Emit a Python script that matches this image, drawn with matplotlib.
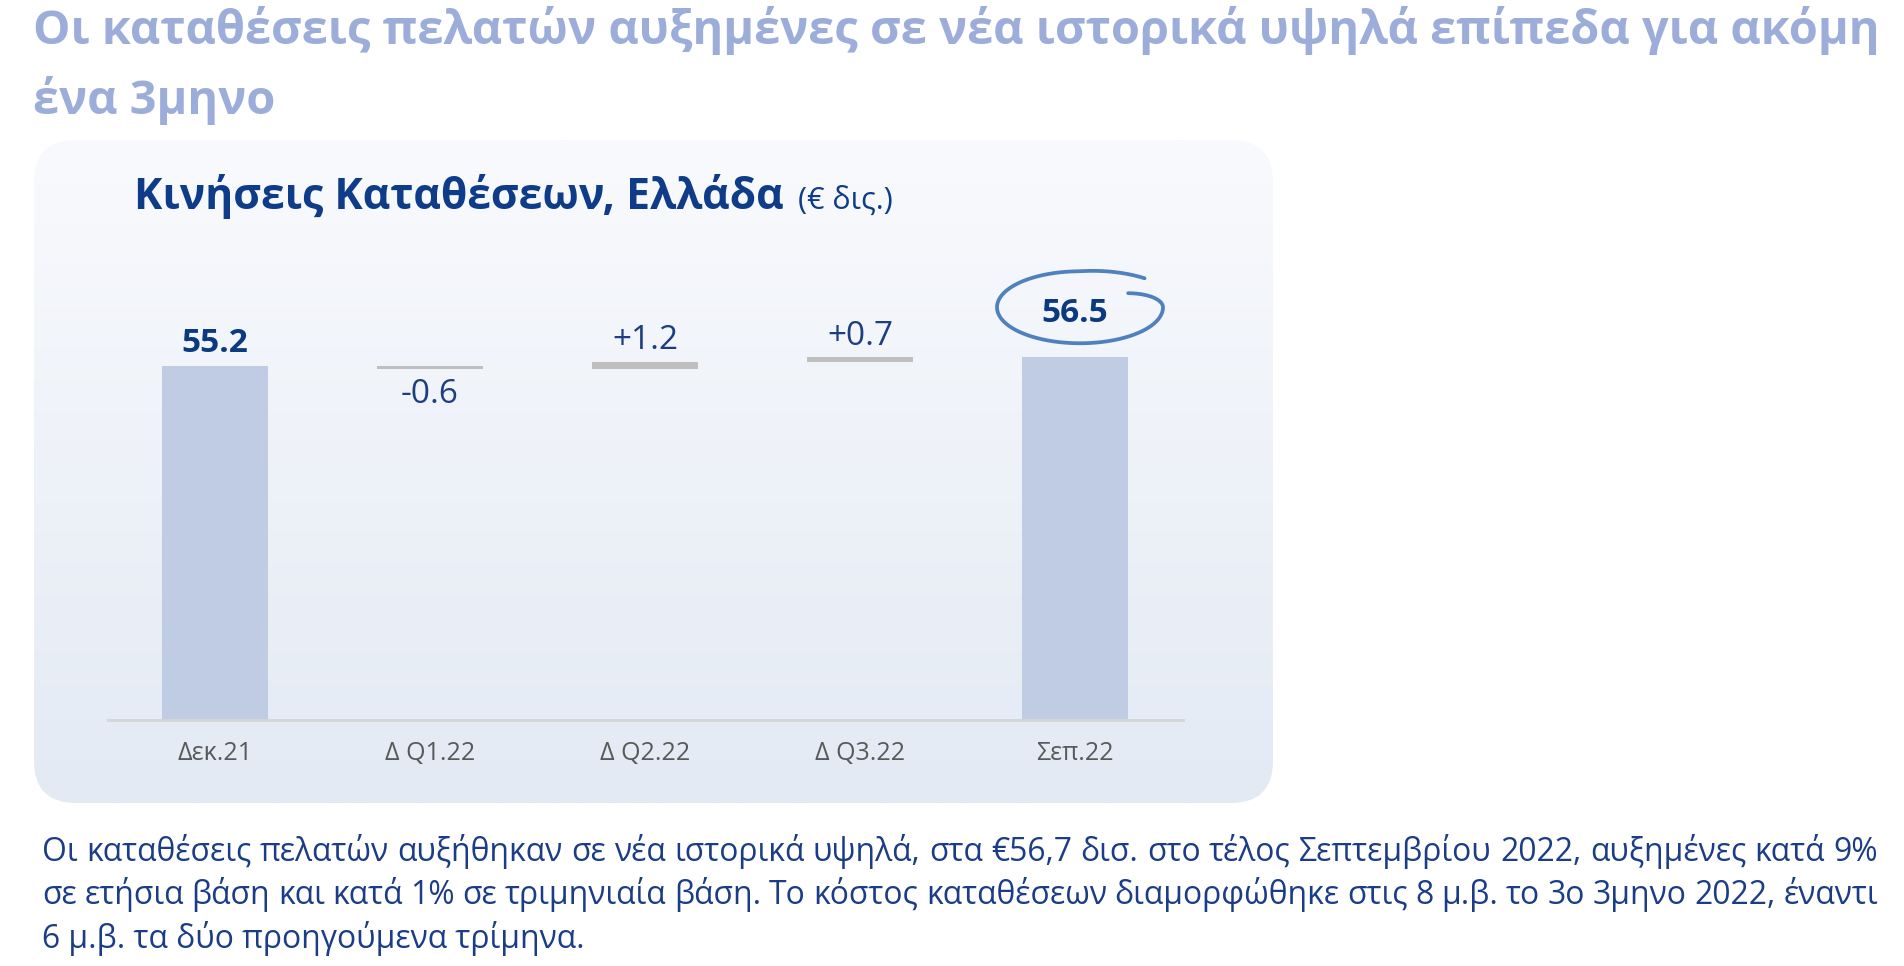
import numpy as np
import matplotlib
matplotlib.use('Agg')
import matplotlib.pyplot as plt
from matplotlib.patches import FancyBboxPatch
from matplotlib.colors import to_rgb

plt.rcParams['font.family'] = ['Open Sans', 'DejaVu Sans']

# ---------------- data ----------------
categories = ['Δεκ.21', 'Δ Q1.22', 'Δ Q2.22', 'Δ Q3.22', 'Σεπ.22']
values = [55.2, -0.6, 1.2, 0.7, 56.5]
is_total = [True, False, False, False, True]

title_lines = ['Οι καταθέσεις πελατών αυξημένες σε νέα ιστορικά υψηλά επίπεδα για ακόμη',
               'ένα 3μηνο']
chart_title = 'Κινήσεις Καταθέσεων, Ελλάδα'
unit_label = '(€ δις.)'
body_lines = [
    'Οι καταθέσεις πελατών αυξήθηκαν σε νέα ιστορικά υψηλά, στα €56,7 δισ. στο τέλος Σεπτεμβρίου 2022, αυξημένες κατά 9%',
    'σε ετήσια βάση και κατά 1% σε τριμηνιαία βάση. Το κόστος καταθέσεων διαμορφώθηκε στις 8 μ.β. το 3ο 3μηνο 2022, έναντι',
    '6 μ.β. τα δύο προηγούμενα τρίμηνα.',
]

# ---------------- styles ----------------
TITLE_COLOR = '#9DADDA'
NAVY = '#0E3C88'
BODY_COLOR = '#1B3C86'
TOTAL_COLOR = '#C0CCE4'
DELTA_COLOR = '#BFBFBF'
TICK_COLOR = '#595959'
CIRCLE_COLOR = '#4F81BD'

W, H = 1904, 966
fig = plt.figure(figsize=(W / 100, H / 100), dpi=100)
fig.patch.set_facecolor('white')
renderer = fig.canvas.get_renderer()

# background panel (pixel coordinates, origin top-left)
bg = fig.add_axes([0, 0, 1, 1], zorder=0)
bg.set_xlim(0, W)
bg.set_ylim(H, 0)
bg.axis('off')
px0, py0, pw, ph = 34, 140, 1239, 663
grad = np.linspace(0, 1, 256)[:, None, None]
ctop = np.array(to_rgb('#F9FAFD'))
cbot = np.array(to_rgb('#E3EAF4'))
img = ctop + (cbot - ctop) * grad
im = bg.imshow(img, extent=[px0, px0 + pw, py0 + ph, py0], aspect='auto',
               interpolation='bilinear')
panel = FancyBboxPatch((px0, py0), pw, ph, boxstyle='round,pad=0,rounding_size=42',
                       transform=bg.transData, facecolor='none', edgecolor='none')
bg.add_patch(panel)
im.set_clip_path(panel)
bg.set_xlim(0, W)
bg.set_ylim(H, 0)

# ---------------- chart ----------------
ax_left, ax_right, base_y = 107.5, 1182.5, 720
ppu, ymax = 6.42, 60
ax = fig.add_axes([ax_left / W, (H - base_y) / H, (ax_right - ax_left) / W, ppu * ymax / H],
                  zorder=2)
ax.patch.set_alpha(0)

x = np.arange(len(categories))
bottoms, heights, colors = [], [], []
running = 0.0
for v, t in zip(values, is_total):
    if t:
        bottoms.append(0.0)
        heights.append(v)
        colors.append(TOTAL_COLOR)
        running = v
    else:
        bottoms.append(running + min(v, 0))
        heights.append(abs(v))
        colors.append(DELTA_COLOR)
        running += v

ax.bar(x, heights, bottom=bottoms, width=0.49, color=colors, linewidth=0, zorder=2)
ax.set_xlim(-0.5, 4.5)
ax.set_ylim(0, ymax)

for i, (v, t) in enumerate(zip(values, is_total)):
    top = bottoms[i] + heights[i]
    if t:
        lab = f'{v:.1f}'
        off_px = 44 if i == len(values) - 1 else 22
        ax.annotate(lab, xy=(i, top), xytext=(0, off_px * 0.72), textcoords='offset points',
                    ha='center', va='center', fontsize=24, fontweight='bold', color='#0B3A80',
                    annotation_clip=False)
    else:
        lab = f'{v:+.1f}'
        if v >= 0:
            ax.annotate(lab, xy=(i, top), xytext=(0, 21 * 0.72), textcoords='offset points',
                        ha='center', va='center', fontsize=24, color='#1D3F80',
                        annotation_clip=False)
        else:
            ax.annotate(lab, xy=(i, bottoms[i]), xytext=(0, -25 * 0.72),
                        textcoords='offset points', ha='center', va='center', fontsize=24,
                        color='#1D3F80', annotation_clip=False)

ax.set_xticks(x, categories)
ax.set_yticks([])
ax.tick_params(axis='x', length=0, pad=15, labelsize=18, labelcolor=TICK_COLOR)
for s in ['top', 'left', 'right']:
    ax.spines[s].set_visible(False)
ax.spines['bottom'].set_color('#D5D5D5')
ax.spines['bottom'].set_linewidth(2)
ax.spines['bottom'].set_zorder(3)

# hand-drawn ring around the final total
ov = fig.add_axes([0, 0, 1, 1], zorder=3)
ov.set_xlim(0, W)
ov.set_ylim(H, 0)
ov.axis('off')
ov.patch.set_alpha(0)
last = len(values) - 1
X, Y = ax.transData.transform((last, values[last]))
cx, cy = X + 5, (H - Y) - 50
deg = np.linspace(46, 394, 500)
r = np.ones_like(deg)
r += 0.12 * np.clip((90 - deg) / 44, 0, 1)
r -= 0.30 * np.clip((deg - 360) / 34, 0, 1) ** 2
th = np.radians(deg)
ov.plot(cx + 83 * r * np.cos(th), cy - 36 * r * np.sin(th), color=CIRCLE_COLOR, lw=2.7,
        solid_capstyle='round')


# ---------------- texts ----------------
def fit(txt, target):
    w = txt.get_window_extent(renderer).width
    txt.set_fontsize(txt.get_fontsize() * target / w)
    return txt.get_fontsize()


t1 = fig.text(33 / W, 1 - 44 / H, title_lines[0], fontsize=30, fontweight='bold',
              color=TITLE_COLOR, va='baseline', ha='left')
fs_title = fit(t1, 1847)
fig.text(33 / W, 1 - 114 / H, title_lines[1], fontsize=fs_title, fontweight='bold',
         color=TITLE_COLOR, va='baseline', ha='left')

ct = fig.text(134 / W, 1 - 209 / H, chart_title, fontsize=30, fontweight='bold', color=NAVY,
              va='baseline', ha='left')
fit(ct, 649)
ct_right = ct.get_window_extent(renderer).x1
fig.text((ct_right + 14) / W, 1 - 209 / H, unit_label, fontsize=22, color=NAVY,
         va='baseline', ha='left')

# body text (justified lines)
tmp = fig.text(0, 0, body_lines[0], fontsize=18)
fs_body = fit(tmp, 1836)
tmp.remove()
body_left, body_right = 42, 1878
baselines = [861, 904, 948]
for k, line in enumerate(body_lines):
    yb = 1 - baselines[k] / H
    if k == len(body_lines) - 1:
        fig.text(body_left / W, yb, line, fontsize=fs_body, color=BODY_COLOR,
                 va='baseline', ha='left')
        continue
    words = line.split(' ')
    objs = [fig.text(0, yb, w_, fontsize=fs_body, color=BODY_COLOR, va='baseline', ha='left')
            for w_ in words]
    widths = [o.get_window_extent(renderer).width for o in objs]
    gap = (body_right - body_left - sum(widths)) / (len(words) - 1)
    xpos = body_left
    for o, w_ in zip(objs, widths):
        o.set_x(xpos / W)
        xpos += w_ + gap

fig.savefig('out.png', dpi=100, facecolor='white')
